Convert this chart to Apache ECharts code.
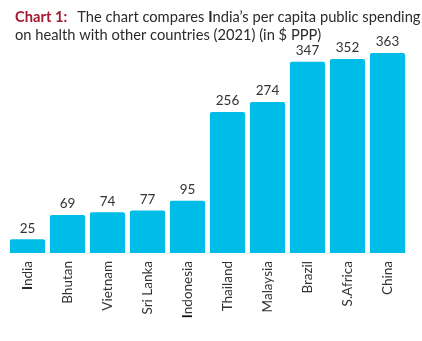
<!DOCTYPE html>
<html>
<head>
<meta charset="utf-8">
<style>
  html, body { margin: 0; padding: 0; background: #fff; }
  #chart { width: 422px; height: 341px; }
</style>
<script src="https://cdn.jsdelivr.net/npm/echarts@6/dist/echarts.min.js"></script>
</head>
<body>
<div id="chart"></div>
<script>
// Per capita public spending on health, 2021 ($ PPP)
const countries = ['India', 'Bhutan', 'Vietnam', 'Sri Lanka', 'Indonesia', 'Thailand', 'Malaysia', 'Brazil', 'S.Africa', 'China'];
const spending = [25, 69, 74, 77, 95, 256, 274, 347, 352, 363];

const chart = echarts.init(document.getElementById('chart'), null, { renderer: 'canvas' });

const labelFont = { fontFamily: 'Lato', fontSize: 13.5, color: '#333333' };

chart.setOption({
  animation: false,
  backgroundColor: '#ffffff',
  title: {
    left: 10,
    top: 3,
    text: '{b|Chart 1:}  {n|The chart compares }{k|I}{n|ndia\u2019s per capita public spending}\n{n|on health with other countries (2021) (in $ PPP)}',
    textStyle: {
      fontWeight: 'normal',
      rich: {
        b: { fontFamily: 'Lato', fontWeight: 'bold', fontSize: 14.7, color: '#a3192f', lineHeight: 18 },
        n: { fontFamily: 'Lato', fontWeight: 'normal', fontSize: 14.7, color: '#2b2b2b', lineHeight: 18 },
        k: { fontFamily: 'Lato', fontWeight: 'bold', fontSize: 14.7, color: '#222222', lineHeight: 18 }
      }
    }
  },
  grid: { left: 7.5, right: 14.5, top: 53, bottom: 88, containLabel: false },
  xAxis: {
    type: 'category',
    data: countries,
    axisLine: { show: false },
    axisTick: { show: false },
    axisLabel: {
      rotate: 90,
      margin: 8,
      interval: 0,
      ...labelFont,
      // country names starting with a capital I get a heavier initial
      formatter: function (name) {
        if (name.charAt(0) === 'I') {
          return '{k|I}{n|' + name.slice(1) + '}';
        }
        return '{n|' + name + '}';
      },
      rich: {
        n: { ...labelFont },
        k: { ...labelFont, fontWeight: 'bold', color: '#111111' }
      }
    }
  },
  yAxis: {
    type: 'value',
    min: 0,
    max: 363,
    show: false
  },
  series: [{
    type: 'bar',
    data: spending,
    barCategoryGap: '12%',
    itemStyle: { color: '#00bde8', borderRadius: [2, 2, 0, 0] },
    label: {
      show: true,
      position: 'top',
      distance: 4,
      ...labelFont
    }
  }]
});
</script>
</body>
</html>
